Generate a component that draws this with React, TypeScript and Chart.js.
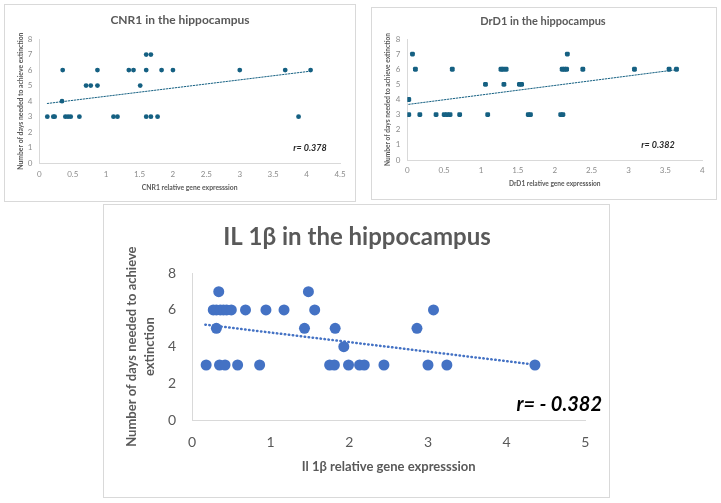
import { useEffect, useRef } from "react"
import { Chart, registerables } from "chart.js"

Chart.register(...registerables)

// CNR1 panel
const cnr1X = [0.12, 0.21, 0.23, 0.39, 0.43, 0.47, 0.6, 1.11, 1.17, 1.6, 1.67, 1.77, 3.88, 0.34, 0.7, 0.77, 0.87, 1.51, 0.35, 0.87, 1.34, 1.41, 1.6, 1.83, 2.0, 3.0, 3.68, 4.06, 1.6, 1.67]
const cnr1Y = [3, 3, 3, 3, 3, 3, 3, 3, 3, 3, 3, 3, 3, 4, 5, 5, 5, 5, 6, 6, 6, 6, 6, 6, 6, 6, 6, 6, 7, 7]
const cnr1TrendX = [0.12, 4.06]
const cnr1TrendY = [3.85, 5.93]

// DrD1 panel
const drd1X = [0.02, 0.17, 0.39, 0.5, 0.54, 0.58, 0.71, 1.09, 1.64, 1.67, 2.08, 2.11, 0.02, 1.06, 1.31, 1.52, 1.55, 0.11, 0.61, 1.27, 1.3, 1.34, 2.1, 2.13, 2.16, 2.38, 3.08, 3.55, 3.65, 0.07, 2.17]
const drd1Y = [3, 3, 3, 3, 3, 3, 3, 3, 3, 3, 3, 3, 4, 5, 5, 5, 5, 6, 6, 6, 6, 6, 6, 6, 6, 6, 6, 6, 6, 7, 7]
const drd1TrendX = [0.02, 3.65]
const drd1TrendY = [3.68, 5.97]

// IL 1β panel
const il1bX = [0.18, 0.35, 0.42, 0.58, 0.86, 1.75, 1.81, 1.99, 2.13, 2.19, 2.44, 3.0, 3.24, 4.36, 1.93, 0.31, 1.43, 1.82, 2.86, 0.27, 0.31, 0.36, 0.4, 0.44, 0.5, 0.68, 0.94, 1.17, 1.56, 3.07, 0.34, 1.48]
const il1bY = [3, 3, 3, 3, 3, 3, 3, 3, 3, 3, 3, 3, 3, 3, 4, 5, 5, 5, 5, 6, 6, 6, 6, 6, 6, 6, 6, 6, 6, 6, 7, 7]
const il1bTrendX = [0.17, 4.36]
const il1bTrendY = [5.2, 3.02]

const toPts = (xs: number[], ys: number[]) => xs.map((x, i) => ({ x, y: ys[i] }))
const fmt = (v: number | string) => `${+Number(v).toFixed(2)}`

type TextItem = { text: string; x: number; y: number; font: string; color: string; align?: CanvasTextAlign }

type PanelProps = {
  left: number
  top: number
  width: number
  height: number
  xs: number[]
  ys: number[]
  trendX: number[]
  trendY: number[]
  color: string
  pointStyle: string
  radius: number
  trendWidth: number
  trendDash: number[]
  xMax: number
  xStep: number
  yStep: number
  yAxisW: number
  xAxisH: number
  padTop: number
  padRight: number
  family: string
  tickSize: number
  tickColor: string
  tickPadY: number
  tickPadX: number
  titleSize: number
  xTitle: string
  yTitle: string | string[]
  yTitlePad: number
  xTitlePad: number
  axisTitleLH: number
  texts: TextItem[]
}

function Panel(p: PanelProps) {
  const chartRef = useRef<HTMLCanvasElement>(null)
  const chartInstance = useRef<Chart | null>(null)

  useEffect(() => {
    if (!chartRef.current) return
    if (chartInstance.current) chartInstance.current.destroy()
    const ctx = chartRef.current.getContext("2d")
    if (!ctx) return

    // chart title and r value, drawn on top
    const textPlugin = {
      id: "panelText",
      afterDraw(chart: Chart) {
        const c = chart.ctx
        for (const t of p.texts) {
          c.save()
          c.font = t.font
          c.fillStyle = t.color
          c.textAlign = t.align || "center"
          c.textBaseline = "middle"
          c.fillText(t.text, t.x, t.y)
          c.restore()
        }
      },
    }

    chartInstance.current = new Chart(ctx, {
      type: "scatter",
      data: {
        datasets: [
          {
            data: toPts(p.xs, p.ys),
            backgroundColor: p.color,
            borderColor: p.color,
            pointStyle: p.pointStyle as any,
            pointRadius: p.radius,
            pointHoverRadius: p.radius,
            borderWidth: 0,
          },
          {
            type: "line",
            data: toPts(p.trendX, p.trendY),
            borderColor: p.color,
            borderWidth: p.trendWidth,
            borderDash: p.trendDash,
            borderCapStyle: "round",
            pointRadius: 0,
            fill: false,
          },
        ],
      },
      options: {
        animation: false,
        responsive: false,
        maintainAspectRatio: false,
        layout: { padding: { left: 0, top: p.padTop, right: p.padRight, bottom: 0 } },
        plugins: {
          legend: { display: false },
          tooltip: { enabled: false },
          title: { display: false },
        },
        scales: {
          x: {
            type: "linear",
            min: 0,
            max: p.xMax,
            afterFit: (s: any) => {
              s.height = p.xAxisH
            },
            grid: { display: false, drawTicks: false },
            border: { display: true, color: "#d9d9d9", width: 1 },
            ticks: {
              stepSize: p.xStep,
              padding: p.tickPadX,
              color: p.tickColor,
              font: { family: p.family, size: p.tickSize },
              callback: fmt,
            },
            title: {
              display: true,
              text: p.xTitle,
              color: "#595959",
              font: { family: p.family, size: p.titleSize, weight: "bold", lineHeight: p.axisTitleLH },
              padding: { top: 0, bottom: p.xTitlePad },
            },
          },
          y: {
            type: "linear",
            min: 0,
            max: 8,
            afterFit: (s: any) => {
              s.width = p.yAxisW
            },
            grid: { display: false, drawTicks: false },
            border: { display: true, color: "#d9d9d9", width: 1 },
            ticks: {
              stepSize: p.yStep,
              padding: p.tickPadY,
              color: p.tickColor,
              font: { family: p.family, size: p.tickSize },
              callback: fmt,
            },
            title: {
              display: true,
              text: p.yTitle,
              color: "#595959",
              font: { family: p.family, size: p.titleSize, weight: "bold", lineHeight: p.axisTitleLH },
              padding: { top: p.yTitlePad, bottom: 0 },
            },
          },
        },
      },
      plugins: [textPlugin],
    })

    return () => {
      if (chartInstance.current) {
        chartInstance.current.destroy()
        chartInstance.current = null
      }
    }
  }, [])

  return (
    <div
      style={{
        position: "absolute",
        left: p.left,
        top: p.top,
        width: p.width,
        height: p.height,
        border: "1px solid #d9d9d9",
        background: "#fff",
      }}
    >
      <canvas ref={chartRef} width={p.width} height={p.height} style={{ display: "block", width: p.width, height: p.height }} />
    </div>
  )
}

export default function App() {
  const small = "Lato"
  const big = "Lato"
  return (
    <div style={{ position: "fixed", left: 0, top: 0, width: 721, height: 503, background: "#fff", overflow: "hidden" }}>
      <Panel
        left={4}
        top={4}
        width={350}
        height={196}
        xs={cnr1X}
        ys={cnr1Y}
        trendX={cnr1TrendX}
        trendY={cnr1TrendY}
        color="#156082"
        pointStyle="circle"
        radius={2.4}
        trendWidth={1}
        trendDash={[1.5, 1.5]}
        xMax={4.5}
        xStep={0.5}
        yStep={1}
        yAxisW={34.3}
        xAxisH={37.7}
        padTop={34}
        padRight={15}
        family={small}
        tickSize={8}
        tickColor="#8c8c8c"
        tickPadY={7}
        tickPadX={6}
        titleSize={6.8}
        xTitle="CNR1 relative gene expresssion"
        yTitle="Number of days needed to achieve extinction"
        yTitlePad={11.5}
        xTitlePad={9.5}
        axisTitleLH={1.2}
        texts={[
          { text: "CNR1 in the hippocampus", x: 175, y: 15, font: `bold 12px ${small}`, color: "#595959" },
          { text: "r= 0.378", x: 305, y: 143, font: `italic bold 9px ${small}`, color: "#262626" },
        ]}
      />
      <Panel
        left={371}
        top={7}
        width={344}
        height={191}
        xs={drd1X}
        ys={drd1Y}
        trendX={drd1TrendX}
        trendY={drd1TrendY}
        color="#156082"
        pointStyle="rectRounded"
        radius={2.8}
        trendWidth={1}
        trendDash={[1.5, 1.5]}
        xMax={4}
        xStep={0.5}
        yStep={1}
        yAxisW={35.3}
        xAxisH={39}
        padTop={31}
        padRight={13.7}
        family={small}
        tickSize={8}
        tickColor="#8c8c8c"
        tickPadY={7}
        tickPadX={6}
        titleSize={6.6}
        xTitle="DrD1 relative gene expresssion"
        yTitle="Number of days needed to achieve extinction"
        yTitlePad={11.5}
        xTitlePad={11.5}
        axisTitleLH={1.2}
        texts={[
          { text: "DrD1 in the hippocampus", x: 171, y: 13, font: `bold 11px ${small}`, color: "#595959" },
          { text: "r= 0.382", x: 286, y: 137, font: `italic bold 9px ${small}`, color: "#262626" },
        ]}
      />
      <Panel
        left={103}
        top={204}
        width={505}
        height={292}
        xs={il1bX}
        ys={il1bY}
        trendX={il1bTrendX}
        trendY={il1bTrendY}
        color="#4472C4"
        pointStyle="circle"
        radius={5.5}
        trendWidth={2.5}
        trendDash={[0.5, 3.5]}
        xMax={5}
        xStep={1}
        yStep={2}
        yAxisW={88}
        xAxisH={77}
        padTop={68.3}
        padRight={23.7}
        family={big}
        tickSize={14}
        tickColor="#595959"
        tickPadY={16}
        tickPadX={14}
        titleSize={13}
        xTitle="Il 1β relative gene expresssion"
        yTitle={["Number of days needed to achieve", "extinction"]}
        yTitlePad={18.5}
        xTitlePad={21}
        axisTitleLH={1.4}
        texts={[
          { text: "IL 1β in the hippocampus", x: 253, y: 32, font: `bold 24px ${big}`, color: "#595959" },
          { text: "r= - 0.382", x: 498, y: 200, font: `italic bold 20px ${big}`, color: "#000000", align: "right" },
        ]}
      />
    </div>
  )
}
